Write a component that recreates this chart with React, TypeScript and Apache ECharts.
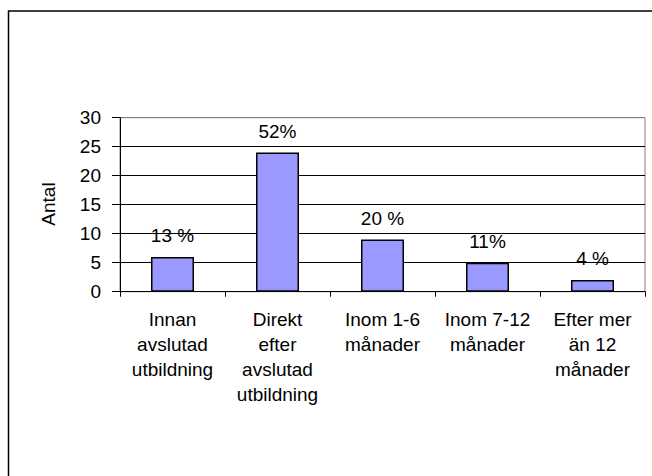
import React, { useEffect, useRef } from "react";
import * as echarts from "echarts";

const categories = [
  "Innan\navslutad\nutbildning",
  "Direkt\nefter\navslutad\nutbildning",
  "Inom 1-6\nmånader",
  "Inom 7-12\nmånader",
  "Efter mer\nän 12\nmånader",
];
const counts = [6, 24, 9, 5, 2];
const percentLabels = ["13 %", "52%", "20 %", "11%", "4 %"];
const yTicks = { min: 0, max: 30, interval: 5 };
const yAxisTitle = "Antal";

const FONT = '"Liberation Sans", Arial, sans-serif';

export default function App() {
  const ref = useRef<HTMLDivElement>(null);
  useEffect(() => {
    if (!ref.current) return;
    const chart = echarts.init(ref.current, null, { renderer: "svg" });
    chart.setOption({
      animation: false,
      backgroundColor: "#ffffff",
      textStyle: { fontFamily: FONT },
      grid: {
        left: 120,
        right: 7,
        top: 117.7,
        bottom: 184.3,
        show: true,
        borderColor: "#808080",
        borderWidth: 1,
      },
      graphic: [
        {
          type: "rect",
          shape: { x: 8.5, y: 11, width: 700, height: 500 },
          style: { fill: "none", stroke: "#000", lineWidth: 1.5 },
          silent: true,
        },
        {
          type: "text",
          x: 48,
          y: 204,
          rotation: Math.PI / 2,
          style: {
            text: yAxisTitle,
            fontSize: 19,
            fontFamily: FONT,
            fill: "#000",
            align: "center",
            verticalAlign: "middle",
          },
        },
      ],
      xAxis: {
        type: "category",
        data: categories,
        axisLine: { lineStyle: { color: "#000", width: 1 } },
        axisTick: { show: true, length: 5, lineStyle: { color: "#000" } },
        axisLabel: {
          color: "#000",
          fontSize: 19,
          fontFamily: FONT,
          lineHeight: 25,
          margin: 15,
          interval: 0,
          align: "center",
        },
        splitLine: { show: false },
      },
      yAxis: {
        type: "value",
        min: yTicks.min,
        max: yTicks.max,
        interval: yTicks.interval,
        axisLine: { show: true, lineStyle: { color: "#000", width: 1 } },
        axisTick: { show: true, length: 8, lineStyle: { color: "#000" } },
        axisLabel: {
          color: "#000",
          fontSize: 19,
          fontFamily: FONT,
          margin: 19,
        },
        splitLine: {
          show: true,
          lineStyle: {
            color: ["#000", "#000", "#000", "#000", "#000", "#000", "#808080"],
            width: 1,
          },
        },
      },
      series: [
        {
          type: "bar",
          data: counts,
          barWidth: 43,
          itemStyle: { color: "#9999ff", borderColor: "#000", borderWidth: 1.5 },
          label: {
            show: true,
            position: "top",
            distance: 12,
            color: "#000",
            fontSize: 19,
            fontFamily: FONT,
            formatter: (p: any) => percentLabels[p.dataIndex],
          },
        },
      ],
    });
    return () => chart.dispose();
  }, []);
  return <div ref={ref} style={{ width: 652, height: 476, position: "absolute", left: 0, top: 0 }} />;
}
